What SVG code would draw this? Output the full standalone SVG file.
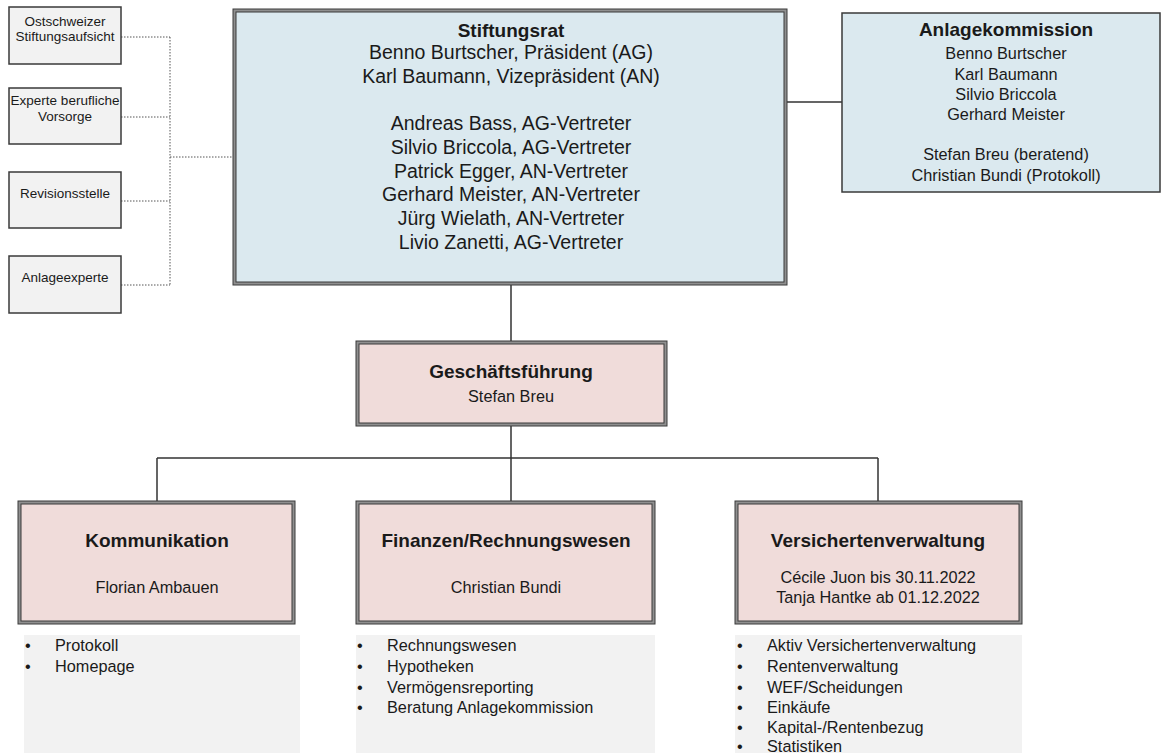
<svg xmlns="http://www.w3.org/2000/svg" width="1162" height="753" viewBox="0 0 1162 753">
<style>
text{font-family:"Liberation Sans",Arial,sans-serif;fill:#1a1a1a;text-anchor:middle}
.t{font-weight:bold;font-size:19px}
.b{font-size:19.5px}
.m{font-size:16.3px}
.s{font-size:13.5px}
.l{font-size:16.3px;text-anchor:start}
.outer{fill:#8f8f8f;stroke:#3a3a3a;stroke-width:1}
.inner{stroke:#3a3a3a;stroke-width:1}
.blue{fill:#dbe9ef}
.pink{fill:#f0dcda}
.single{stroke:#3a3a3a;stroke-width:1.5}
.grey{fill:#f2f2f2}
.con{stroke:#333;stroke-width:1.5;fill:none}
.dot{stroke:#555;stroke-width:1;stroke-dasharray:1.5 1.5;fill:none}
</style>
<g id="connectors">
<path class="dot" d="M121 37H170M121 117H170M121 201H170M121 285H170M170 37V285M170 157H233"/>
<path class="con" d="M787 102H842M511 285V341M511 426V458M157 458H878M157 458V501M511 458V501M878 458V501"/>
</g>
<g id="ostschweizer">
<rect x="9" y="7" width="112" height="57" class="grey single"/>
<text class="s" x="65" y="26">Ostschweizer</text>
<text class="s" x="65" y="41">Stiftungsaufsicht</text>
</g>
<g id="experte">
<rect x="9" y="88" width="112" height="56" class="grey single"/>
<text class="s" x="65" y="105">Experte berufliche</text>
<text class="s" x="65" y="121">Vorsorge</text>
</g>
<g id="revision">
<rect x="9" y="172" width="112" height="56" class="grey single"/>
<text class="s" x="65" y="198">Revisionsstelle</text>
</g>
<g id="anlageexperte">
<rect x="9" y="256" width="112" height="57" class="grey single"/>
<text class="s" x="65" y="282">Anlageexperte</text>
</g>
<g id="stiftungsrat">
<rect x="233" y="9" width="554" height="276" class="outer"/>
<rect x="236" y="12" width="548" height="270" class="inner blue"/>
<text class="t" x="511" y="37">Stiftungsrat</text>
<text class="b" x="511" y="59">Benno Burtscher, Präsident (AG)</text>
<text class="b" x="511" y="83">Karl Baumann, Vizepräsident (AN)</text>
<text class="b" x="511" y="130">Andreas Bass, AG-Vertreter</text>
<text class="b" x="511" y="154">Silvio Briccola, AG-Vertreter</text>
<text class="b" x="511" y="178">Patrick Egger, AN-Vertreter</text>
<text class="b" x="511" y="201">Gerhard Meister, AN-Vertreter</text>
<text class="b" x="511" y="225">Jürg Wielath, AN-Vertreter</text>
<text class="b" x="511" y="249">Livio Zanetti, AG-Vertreter</text>
</g>
<g id="anlagekommission">
<rect x="842" y="13" width="318" height="179" class="blue single"/>
<text class="t" x="1006" y="36">Anlagekommission</text>
<text class="m" x="1006" y="59">Benno Burtscher</text>
<text class="m" x="1006" y="80">Karl Baumann</text>
<text class="m" x="1006" y="100">Silvio Briccola</text>
<text class="m" x="1006" y="120">Gerhard Meister</text>
<text class="m" x="1006" y="160">Stefan Breu (beratend)</text>
<text class="m" x="1006" y="181">Christian Bundi (Protokoll)</text>
</g>
<g id="geschaeftsfuehrung">
<rect x="356" y="341" width="311" height="85" class="outer"/>
<rect x="359" y="344" width="305" height="79" class="inner pink"/>
<text class="t" x="511" y="378">Geschäftsführung</text>
<text class="m" x="511" y="402">Stefan Breu</text>
</g>
<g id="kommunikation">
<rect x="18" y="501" width="277" height="123" class="outer"/>
<rect x="21" y="504" width="271" height="117" class="inner pink"/>
<text class="t" x="157" y="547">Kommunikation</text>
<text class="m" x="157" y="593">Florian Ambauen</text>
<rect x="24" y="635" width="276" height="118" class="grey"/>
<text class="l" x="25" y="651">•</text><text class="l" x="55" y="651">Protokoll</text>
<text class="l" x="25" y="672">•</text><text class="l" x="55" y="672">Homepage</text>
</g>
<g id="finanzen">
<rect x="356" y="501" width="299" height="123" class="outer"/>
<rect x="359" y="504" width="293" height="117" class="inner pink"/>
<text class="t" x="506" y="547">Finanzen/Rechnungswesen</text>
<text class="m" x="506" y="593">Christian Bundi</text>
<rect x="356" y="635" width="299" height="118" class="grey"/>
<text class="l" x="357" y="651">•</text><text class="l" x="387" y="651">Rechnungswesen</text>
<text class="l" x="357" y="672">•</text><text class="l" x="387" y="672">Hypotheken</text>
<text class="l" x="357" y="693">•</text><text class="l" x="387" y="693">Vermögensreporting</text>
<text class="l" x="357" y="713">•</text><text class="l" x="387" y="713">Beratung Anlagekommission</text>
</g>
<g id="versichertenverwaltung">
<rect x="735" y="501" width="287" height="123" class="outer"/>
<rect x="738" y="504" width="281" height="117" class="inner pink"/>
<text class="t" x="878" y="547">Versichertenverwaltung</text>
<text class="m" x="878" y="583">Cécile Juon bis 30.11.2022</text>
<text class="m" x="878" y="603">Tanja Hantke ab 01.12.2022</text>
<rect x="735" y="635" width="287" height="118" class="grey"/>
<text class="l" x="737" y="651">•</text><text class="l" x="767" y="651">Aktiv Versichertenverwaltung</text>
<text class="l" x="737" y="672">•</text><text class="l" x="767" y="672">Rentenverwaltung</text>
<text class="l" x="737" y="693">•</text><text class="l" x="767" y="693">WEF/Scheidungen</text>
<text class="l" x="737" y="713">•</text><text class="l" x="767" y="713">Einkäufe</text>
<text class="l" x="737" y="733">•</text><text class="l" x="767" y="733">Kapital-/Rentenbezug</text>
<text class="l" x="737" y="752">•</text><text class="l" x="767" y="752">Statistiken</text>
</g>
</svg>
